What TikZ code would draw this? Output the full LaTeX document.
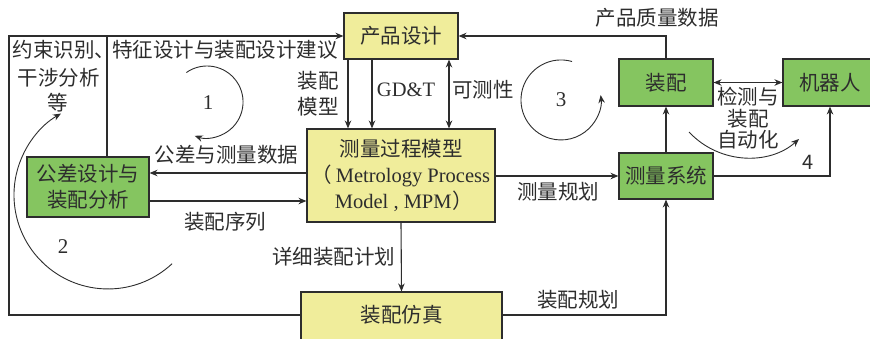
\documentclass[tikz,border=0pt]{standalone}
\usepackage{fontspec}
\setmainfont{Liberation Serif}
\newfontfamily\cjk{Noto Sans CJK SC}
\usetikzlibrary{arrows.meta}
\definecolor{boxyellow}{RGB}{240,237,155}
\definecolor{boxgreen}{RGB}{133,197,96}
\definecolor{ink}{RGB}{45,45,45}
\begin{document}
\begin{tikzpicture}[x=1pt,y=-1pt,
  font=\cjk\fontsize{20.5}{26}\selectfont, text=ink,
  box/.style={draw=ink, line width=1.1pt, inner sep=0pt, align=center},
  ybox/.style={box, fill=boxyellow},
  gbox/.style={box, fill=boxgreen},
  link/.style={draw=ink, line width=1.1pt},
  tip/.tip={Stealth[length=8pt,width=6.5pt]},
  arr/.style={link, -tip},
  darr/.style={link, tip-tip},
  loop/.style={arr, line width=0.9pt},
  lbl/.style={inner sep=0pt, align=center},
  num/.style={lbl, font=\rmfamily\fontsize{21}{24}\selectfont}]

\useasboundingbox (0,0) rectangle (870,338);

% blocks
\node[ybox, minimum width=114pt, minimum height=46pt] (pd) at (401,36) {产品设计};
\node[ybox, minimum width=188pt, minimum height=93pt] (mpm) at (401,175.5)
  {测量过程模型\\{\rmfamily{\cjk （}\,Metrology Process}\\{\rmfamily\hspace{6pt}Model , MPM\hspace{1pt}{\cjk ）}}};
\node[ybox, minimum width=201pt, minimum height=52pt] (sim) at (401.5,318) {};
\node[lbl] (simtxt) at (401.5,315) {装配仿真};
\node[gbox, minimum width=122pt, minimum height=60pt] (tol) at (88,187) {公差设计与\\装配分析};
\node[gbox, minimum width=94pt, minimum height=47pt] (asm) at (666,82.5) {装配};
\node[gbox, minimum width=94pt, minimum height=47pt] (rob) at (830,82.5) {机器人};
\node[gbox, minimum width=94pt, minimum height=46pt] (ms) at (666,176) {测量系统};

% connectors: product design to the metrology process model
\coordinate (p1) at ([xshift=-53pt]pd.south);
\coordinate (p2) at ([xshift=-29pt]pd.south);
\coordinate (p3) at ([xshift=48pt]pd.south);
\draw[arr] (p1) -- (p1 |- mpm.north);
\draw[arr] (p2) -- (p2 |- mpm.north);
\draw[darr] (p3) -- (p3 |- mpm.north);

% tolerance design <-> MPM
\coordinate (t1) at ([yshift=14pt]tol.east);
\coordinate (t2) at ([yshift=-14pt]tol.east);
\draw[arr] (t1 -| mpm.west) -- (t1);
\draw[arr] (t2) -- (t2 -| mpm.west);

% MPM to measuring system and assembly simulation
\draw[arr] (mpm.east |- ms.west) -- (ms.west);
\draw[arr] (mpm.south) -- (sim.north);

% assembly simulation to measuring system
\coordinate (s1) at ([yshift=3pt]sim.east);
\draw[arr] (s1) -| (ms.south);

% measuring system, assembly, robot
\draw[arr] (ms.north) -- (asm.south);
\draw[arr] (asm.north) |- (pd.east);
\draw[darr] (asm.east) -- (rob.west);
\draw[arr] (ms.east) -| (rob.south);

% outer feedback frame on the left
\coordinate (fc) at (9,36);
\coordinate (s2) at ([yshift=3pt]sim.west);
\draw[arr] (s2) -| (fc) -- (pd.west);
\coordinate (tu) at ([xshift=19pt]tol.north);
\draw[link] (tu) -- (tu |- fc);

% loops
\draw[loop] (186.4,72.5) arc[start angle=125, end angle=-110, radius=36pt];
\draw[loop] (172.1,263.7) arc[start angle=-47, end angle=-240, radius=94pt];
\draw[loop] (572,61.5) arc[start angle=74, end angle=367, radius=40pt];
\draw[loop] (689,132) .. controls (720,165) and (770,165) .. (799,139);

% labels
\node[lbl] (la) at (64,50) {约束识别、};
\node[lbl] (lb) at (58.5,78) {干涉分析};
\node[lbl] (lc) at (58,103) {等};
\node[lbl] (ld) at (225,50) {特征设计与装配设计建议};
\node[lbl] (le) at (318,93.5) {装配\\模型};
\node[lbl, font=\rmfamily\fontsize{20.5}{24}\selectfont] (lf) at (406,90) {GD\&T};
\node[lbl] (lg) at (483,90) {可测性};
\node[lbl] (lh) at (226.5,155) {公差与测量数据};
\node[lbl] (li) at (225,222) {装配序列};
\node[lbl] (lj) at (558,192) {测量规划};
\node[lbl] (lk) at (333.5,257) {详细装配计划};
\node[lbl] (ll) at (578,300) {装配规划};
\node[lbl] (lm) at (657,18) {产品质量数据};
\node[lbl, font=\cjk\fontsize{20.5}{21.5}\selectfont] (ln) at (748,118.5) {检测与\\装配\\自动化};
\node[num] (n1) at (208,103) {1};
\node[num] (n2) at (63,247) {2};
\node[num] (n3) at (561,100) {3};
\node[lbl, font=\cjk\fontsize{20}{24}\selectfont] (n4) at (808,162) {4};
\end{tikzpicture}
\end{document}
